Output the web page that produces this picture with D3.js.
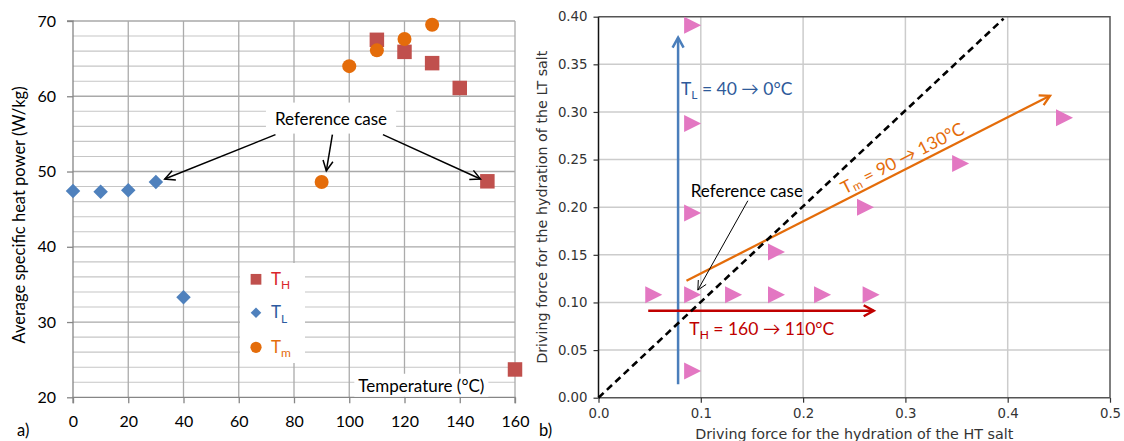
<!DOCTYPE html>
<html><head><meta charset="utf-8">
<script src="https://cdn.jsdelivr.net/npm/d3@7"></script>
<style>body{margin:0;background:#fff;overflow:hidden} svg{display:block}</style>
</head><body><svg id="c" width="1124" height="441"></svg>
<script>
// ---------- Left chart (a) data ----------
const thTemp = [110, 120, 130, 140, 150, 160];
const thPower = [67.5, 65.9, 64.4, 61.1, 48.7, 23.7];
const tlTemp = [0, 10, 20, 30, 40];
const tlPower = [47.4, 47.3, 47.5, 48.6, 33.3];
const tmTemp = [90, 100, 110, 120, 130];
const tmPower = [48.6, 64.0, 66.1, 67.6, 69.5];
const leftXTicks = [0, 20, 40, 60, 80, 100, 120, 140, 160];
const leftYTicks = [20, 30, 40, 50, 60, 70];
// annotation anchors (data units): [x1,y1,x2,y2]
const leftRefLabel = [93.4, 57.1];
const leftRefArrows = [[73.3, 54.9, 33.2, 49.0], [93.9, 54.9, 91.7, 50.1], [112.2, 54.9, 147.5, 49.0]];
const tempLabel = [126.1, 21.6];

// ---------- Right chart (b) data ----------
const dfHT = [0.092, 0.092, 0.092, 0.092, 0.092, 0.054, 0.132, 0.174, 0.219, 0.2665, 0.174, 0.261, 0.354, 0.4555];
const dfLT = [0.391, 0.288, 0.194, 0.108, 0.028, 0.108, 0.108, 0.108, 0.108, 0.108, 0.153, 0.200, 0.246, 0.294];
const rightXTicks = [0, 0.1, 0.2, 0.3, 0.4, 0.5];
const rightYTicks = [0, 0.05, 0.10, 0.15, 0.20, 0.25, 0.30, 0.35, 0.40];
const diagLine = [0, 0, 0.396, 0.398];
const tlArrow = [0.0778, 0.014, 0.0778, 0.378];
const thArrow = [0.0486, 0.0913, 0.269, 0.0913];
const tmArrow = [0.086, 0.1228, 0.4414, 0.317];
const rightRefArrow = [0.146, 0.2068, 0.0971, 0.113];
const rightRefLabel = [0.145, 0.2173];
const tlText = [0.0806, 0.324];
const thText = [0.0888, 0.0718];
const tmText = [0.2967, 0.2522];

const svg = d3.select('#c');
const calib = 'Lato, Carlito, "Liberation Sans", sans-serif';
const dejavu = '"DejaVu Sans", Verdana, sans-serif';

function arrow(g, x1, y1, x2, y2, color, width, headLen, headHalf) {
  g.append('line').attr('x1', x1).attr('y1', y1).attr('x2', x2).attr('y2', y2)
    .attr('stroke', color).attr('stroke-width', width);
  const a = Math.atan2(y2 - y1, x2 - x1);
  const pts = [[-headLen, -headHalf], [0, 0], [-headLen, headHalf]].map(([u, v]) =>
    [x2 + u * Math.cos(a) - v * Math.sin(a), y2 + u * Math.sin(a) + v * Math.cos(a)]);
  g.append('path').attr('d', d3.line()(pts)).attr('fill', 'none')
    .attr('stroke', color).attr('stroke-width', width).attr('stroke-linejoin', 'miter');
}
function bgRect(g, textSel, padX, padY) {
  const b = textSel.node().getBBox();
  g.insert('rect', function () { return textSel.node(); })
    .attr('x', b.x - padX).attr('y', b.y - padY).attr('width', b.width + 2 * padX).attr('height', b.height + 2 * padY)
    .attr('fill', '#fff');
}

// ================= LEFT =================
{
  const x = d3.scaleLinear([0, 160], [73, 515]);
  const y = d3.scaleLinear([20, 70], [397.3, 21]);
  const g = svg.append('g');
  g.append('g').selectAll('line').data(d3.range(22, 70.01, 2)).join('line')
    .attr('x1', x(0)).attr('x2', x(160)).attr('y1', d => y(d)).attr('y2', d => y(d))
    .attr('stroke', d => d % 10 === 0 ? '#a9a9a9' : '#c6c6c6').attr('stroke-width', d => d % 10 === 0 ? 1.3 : 1.1);
  g.append('g').selectAll('line').data(leftXTicks.slice(1)).join('line')
    .attr('x1', d => x(d)).attr('x2', d => x(d)).attr('y1', y(20)).attr('y2', y(70))
    .attr('stroke', '#ababab').attr('stroke-width', 1.3);

  const yAx = g.append('g').attr('transform', `translate(${x(0)},0)`)
    .call(d3.axisLeft(y).tickValues(leftYTicks).tickSize(6).tickPadding(11).tickFormat(d3.format('d')));
  const xAx = g.append('g').attr('transform', `translate(0,${y(20)})`)
    .call(d3.axisBottom(x).tickValues(leftXTicks).tickSize(6).tickPadding(12).tickFormat(d3.format('d')));
  [yAx, xAx].forEach(a => {
    a.select('.domain').attr('stroke', '#868686').attr('stroke-width', 1.3);
    a.selectAll('.tick line').attr('stroke', '#868686').attr('stroke-width', 1.3);
    a.selectAll('.tick text').attr('fill', '#000').style('font-family', calib).style('font-size', '16px');
  });
  yAx.select('.domain').attr('d', `M-6,${y(70)}H0V${y(20)}`);
  xAx.select('.domain').attr('d', `M${x(0)},6V0H${x(160)}V6`);

  g.append('text').attr('transform', `translate(19,215) rotate(-90)`)
    .attr('text-anchor', 'middle').attr('dominant-baseline', 'central')
    .style('font-family', calib).style('font-size', '16.5px').text('Average specific heat power (W/kg)');
  g.append('text').attr('x', 17).attr('y', 436).style('font-family', calib).style('font-size', '16.5px').text('a)');

  const tl = g.append('text').attr('x', x(tempLabel[0])).attr('y', y(tempLabel[1])).attr('text-anchor', 'middle')
    .attr('dominant-baseline', 'central').style('font-family', calib).style('font-size', '17px').text('Temperature (°C)');
  bgRect(g, tl, 4, 1);

  g.append('g').selectAll('path').data(thTemp).join('path')
    .attr('d', d3.symbol(d3.symbolSquare, 210)())
    .attr('transform', (d, i) => `translate(${x(d)},${y(thPower[i])})`).attr('fill', '#c0504d');
  g.append('g').selectAll('path').data(tlTemp).join('path')
    .attr('d', d3.symbol(d3.symbolSquare, 106)())
    .attr('transform', (d, i) => `translate(${x(d)},${y(tlPower[i])}) rotate(45)`).attr('fill', '#4f81bd');
  g.append('g').selectAll('circle').data(tmTemp).join('circle')
    .attr('cx', d => x(d)).attr('cy', (d, i) => y(tmPower[i])).attr('r', 7).attr('fill', '#e46c0a');

  const rl = g.append('text').attr('x', x(leftRefLabel[0])).attr('y', y(leftRefLabel[1])).attr('text-anchor', 'middle')
    .attr('dominant-baseline', 'central').style('font-family', calib).style('font-size', '17px').text('Reference case');
  bgRect(g, rl, 9, 5);
  leftRefArrows.forEach(a => arrow(g, x(a[0]), y(a[1]), x(a[2]), y(a[3]), '#000', 1.5, 10, 5));

  const lg = g.append('g');
  lg.append('rect').attr('x', 240).attr('y', 263).attr('width', 65).attr('height', 100).attr('fill', '#fff');
  const legItems = [
    { sym: 'square', col: '#c0504d', tcol: '#d9262c', sub: 'H', cy: 279.3 },
    { sym: 'diamond', col: '#4f81bd', tcol: '#2c5aa0', sub: 'L', cy: 312.7 },
    { sym: 'circle', col: '#e46c0a', tcol: '#e46c0a', sub: 'm', cy: 347.3 }
  ];
  legItems.forEach(it => {
    if (it.sym === 'square') lg.append('path').attr('d', d3.symbol(d3.symbolSquare, 115)()).attr('transform', `translate(256,${it.cy})`).attr('fill', it.col);
    if (it.sym === 'diamond') lg.append('path').attr('d', d3.symbol(d3.symbolSquare, 56)()).attr('transform', `translate(256,${it.cy}) rotate(45)`).attr('fill', it.col);
    if (it.sym === 'circle') lg.append('circle').attr('cx', 256).attr('cy', it.cy).attr('r', 5.6).attr('fill', it.col);
    const t = lg.append('text').attr('x', 271).attr('y', it.cy + 5.5).attr('fill', it.tcol).style('font-family', calib).style('font-size', '17px');
    t.append('tspan').text('T');
    t.append('tspan').attr('dy', 4.5).style('font-size', '12px').text(it.sub);
  });
}

// ================= RIGHT =================
{
  const x = d3.scaleLinear([0, 0.5], [598.5, 1110]);
  const y = d3.scaleLinear([0, 0.4], [397.7, 16.7]);
  const g = svg.append('g');
  g.append('g').selectAll('line').data(rightYTicks.slice(1, -1)).join('line')
    .attr('x1', x(0)).attr('x2', x(0.5)).attr('y1', d => y(d)).attr('y2', d => y(d))
    .attr('stroke', '#cccccc').attr('stroke-width', 1.5);
  g.append('g').selectAll('line').data(rightXTicks.slice(1, -1)).join('line')
    .attr('x1', d => x(d)).attr('x2', d => x(d)).attr('y1', y(0)).attr('y2', y(0.4))
    .attr('stroke', '#cccccc').attr('stroke-width', 1.5);
  g.append('path').attr('d', `M${x(0)},${y(0.4)}H${x(0.5)}V${y(0)}`).attr('fill', 'none').attr('stroke', '#555').attr('stroke-width', 1.5);

  const yAx = g.append('g').attr('transform', `translate(${x(0)},0)`)
    .call(d3.axisLeft(y).tickValues(rightYTicks).tickSize(5).tickPadding(6).tickFormat(d3.format('.2f')));
  const xAx = g.append('g').attr('transform', `translate(0,${y(0)})`)
    .call(d3.axisBottom(x).tickValues(rightXTicks).tickSize(5).tickPadding(6).tickFormat(d3.format('.1f')));
  [yAx, xAx].forEach(a => {
    a.select('.domain').attr('stroke', '#333').attr('stroke-width', 1.5);
    a.selectAll('.tick line').attr('stroke', '#333').attr('stroke-width', 1.2);
    a.selectAll('.tick text').attr('fill', '#333').style('font-family', dejavu).style('font-size', '13.3px');
  });
  yAx.select('.domain').attr('d', `M0,${y(0.4)}V${y(0)}`).attr('stroke', '#111');
  xAx.select('.domain').attr('d', `M${x(0)},0H${x(0.5)}`).attr('stroke', '#555');

  g.append('text').attr('x', (x(0) + x(0.5)) / 2).attr('y', 433.5).attr('text-anchor', 'middle')
    .attr('dominant-baseline', 'central').attr('fill', '#333')
    .style('font-family', dejavu).style('font-size', '14.3px').text('Driving force for the hydration of the HT salt');
  g.append('text').attr('transform', `translate(541.5,${(y(0) + y(0.4)) / 2}) rotate(-90)`)
    .attr('text-anchor', 'middle').attr('dominant-baseline', 'central').attr('fill', '#333')
    .style('font-family', dejavu).style('font-size', '14.3px').text('Driving force for the hydration of the LT salt');
  g.append('text').attr('x', 539).attr('y', 436).style('font-family', calib).style('font-size', '16.5px').text('b)');

  const tri = d3.line()([[8.5, 0], [-8.5, 8.5], [-8.5, -8.5]]) + 'Z';
  g.append('g').selectAll('path').data(dfHT).join('path')
    .attr('d', tri).attr('transform', (d, i) => `translate(${x(d)},${y(dfLT[i])})`).attr('fill', '#e377c2');

  arrow(g, x(tlArrow[0]), y(tlArrow[1]), x(tlArrow[2]), y(tlArrow[3]), '#4a7ebb', 2.5, 10, 5.5);
  arrow(g, x(thArrow[0]), y(thArrow[1]), x(thArrow[2]), y(thArrow[3]), '#c00000', 2.5, 10, 5.5);
  arrow(g, x(tmArrow[0]), y(tmArrow[1]), x(tmArrow[2]), y(tmArrow[3]), '#e46c0a', 2.3, 10, 5.5);

  g.append('line').attr('x1', x(diagLine[0])).attr('y1', y(diagLine[1])).attr('x2', x(diagLine[2])).attr('y2', y(diagLine[3]))
    .attr('stroke', '#000').attr('stroke-width', 2.6).attr('stroke-dasharray', '7,4.5');

  g.append('text').attr('x', x(rightRefLabel[0])).attr('y', y(rightRefLabel[1])).attr('text-anchor', 'middle')
    .attr('dominant-baseline', 'central').style('font-family', calib).style('font-size', '17px').text('Reference case');
  arrow(g, x(rightRefArrow[0]), y(rightRefArrow[1]), x(rightRefArrow[2]), y(rightRefArrow[3]), '#000', 1, 9, 4.5);

  const t1 = g.append('text').attr('x', x(tlText[0])).attr('y', y(tlText[1]) + 6).attr('fill', '#2e5a9a')
    .style('font-family', calib).style('font-size', '17.5px');
  t1.append('tspan').text('T');
  t1.append('tspan').attr('dy', 4).style('font-size', '12px').text('L');
  t1.append('tspan').attr('dy', -4).text(' = 40 → 0°C');

  const t2 = g.append('text').attr('x', x(thText[0])).attr('y', y(thText[1]) + 6).attr('fill', '#c00000')
    .style('font-family', calib).style('font-size', '17.5px');
  t2.append('tspan').text('T');
  t2.append('tspan').attr('dy', 4).style('font-size', '12px').text('H');
  t2.append('tspan').attr('dy', -4).text(' = 160 → 110°C');

  const ang = Math.atan2(y(tmArrow[3]) - y(tmArrow[1]), x(tmArrow[2]) - x(tmArrow[0])) * 180 / Math.PI;
  const t3 = g.append('text').attr('transform', `translate(${x(tmText[0])},${y(tmText[1])}) rotate(${ang})`)
    .attr('text-anchor', 'middle').attr('dominant-baseline', 'central').attr('fill', '#e46c0a')
    .style('font-family', calib).style('font-size', '17.5px');
  t3.append('tspan').text('T');
  t3.append('tspan').attr('dy', 4).style('font-size', '12px').text('m');
  t3.append('tspan').attr('dy', -4).text(' = 90 → 130°C');
}
</script>
</body></html>
